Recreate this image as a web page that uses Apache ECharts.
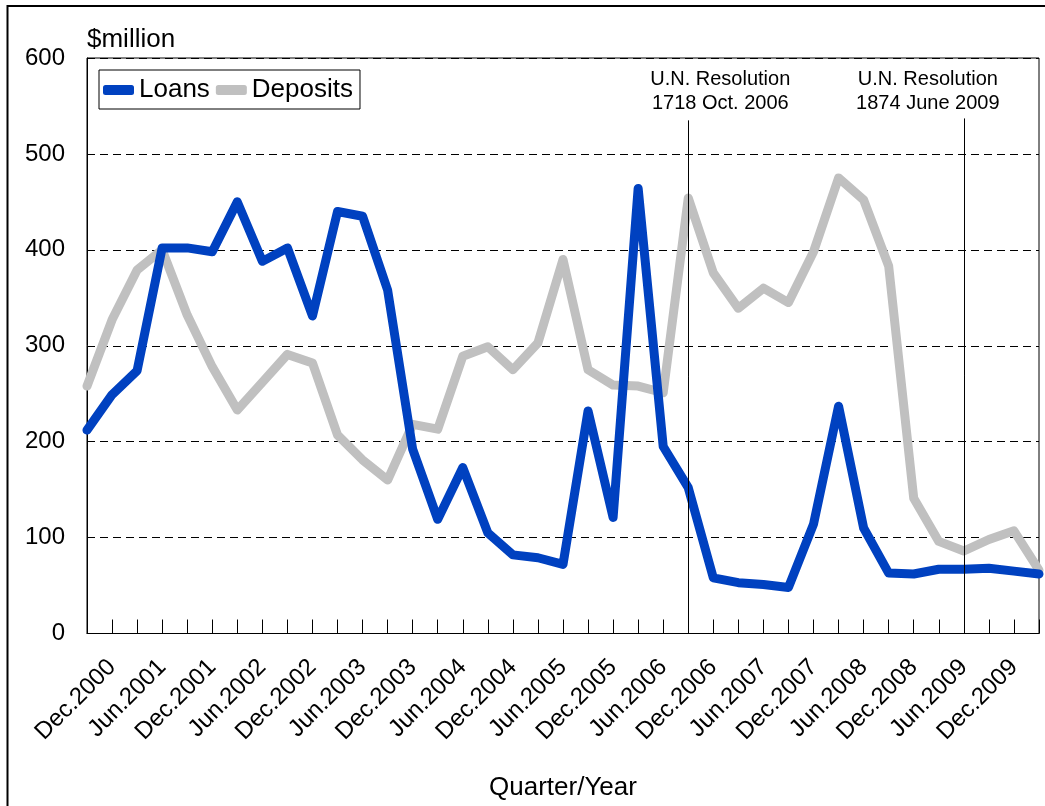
<!DOCTYPE html>
<html>
<head>
<meta charset="utf-8">
<script src="https://cdn.jsdelivr.net/npm/echarts@6/dist/echarts.min.js"></script>
<style>
html,body{margin:0;padding:0;background:#fff;}
#chart{width:1045px;height:806px;}
</style>
</head>
<body>
<div id="chart"></div>
<script>
var categories = ['Sep.2000','Dec.2000','Mar.2001','Jun.2001','Sep.2001','Dec.2001','Mar.2002','Jun.2002','Sep.2002','Dec.2002',
  'Mar.2003','Jun.2003','Sep.2003','Dec.2003','Mar.2004','Jun.2004','Sep.2004','Dec.2004','Mar.2005','Jun.2005',
  'Sep.2005','Dec.2005','Mar.2006','Jun.2006','Sep.2006','Dec.2006','Mar.2007','Jun.2007','Sep.2007','Dec.2007',
  'Mar.2008','Jun.2008','Sep.2008','Dec.2008','Mar.2009','Jun.2009','Sep.2009','Dec.2009','Mar.2010'];
var loans = [212,249,274,402,402,398,450,388,402,331,
  440,435,358,192,119,173,105,82,79,72,
  232,121,464,195,152,58,53,51,48,114,
  237,110,63,62,67,67,68,65,62];
var deposits = [258,327,379,400,332,278,233,262,291,282,
  207,181,160,218,213,289,299,275,303,390,
  275,259,258,251,454,376,339,360,345,398,
  475,452,383,141,96,86,98,107,66];
var yTicks = [0,100,200,300,400,500,600];
var eventCats = ['Sep.2006', 'Jun.2009'];
var eventTops = [535, 537];
var eventTexts = ['U.N. Resolution\n1718 Oct. 2006', 'U.N. Resolution\n1874 June 2009'];

var FONT = "'Liberation Sans', Arial, sans-serif";
var labelDx = [32, -36];   // horizontal offset of annotation text centre from its line (px)
var chart = echarts.init(document.getElementById('chart'));
var option = {
  animation: false,
  backgroundColor: '#fff',
  textStyle: {fontFamily: FONT, color: '#000'},
  grid: {left: 87, right: 6, top: 58, bottom: 172.5, show: true, borderColor: '#000', borderWidth: 1, containLabel: false},
  legend: {
    left: 99, top: 70,
    data: ['Loans', 'Deposits'],
    icon: 'roundRect',
    itemWidth: 31, itemHeight: 10, itemGap: 6,
    padding: [7, 7, 6, 4],
    borderColor: '#000', borderWidth: 1,
    textStyle: {fontFamily: FONT, fontSize: 26, color: '#000'}
  },
  xAxis: {
    type: 'category',
    data: categories,
    boundaryGap: false,
    name: 'Quarter/Year',
    nameLocation: 'middle',
    nameGap: 141,
    nameTextStyle: {fontFamily: FONT, fontSize: 26, color: '#000'},
    axisLine: {lineStyle: {color: '#000', width: 1}},
    axisTick: {show: true, inside: true, length: 14, interval: 0, lineStyle: {color: '#000'}},
    axisLabel: {
      rotate: 45, margin: 30, fontFamily: FONT, fontSize: 24, color: '#000',
      interval: function (i) { return i % 2 === 1; }
    },
    splitLine: {show: false}
  },
  yAxis: {
    type: 'value',
    min: yTicks[0], max: yTicks[yTicks.length - 1], interval: 100,
    name: '$million',
    nameLocation: 'end',
    nameGap: 5,
    nameTextStyle: {fontFamily: FONT, fontSize: 26, color: '#000', align: 'left', verticalAlign: 'bottom'},
    axisLine: {show: true, lineStyle: {color: '#000', width: 1}},
    axisTick: {show: false},
    axisLabel: {margin: 22, fontFamily: FONT, fontSize: 24, color: '#000'},
    splitLine: {show: true, lineStyle: {color: '#000', width: 1, type: [8, 5]}}
  },
  series: [
    {
      name: 'Loans', type: 'line', data: loans, z: 3,
      showSymbol: false, symbol: 'none',
      itemStyle: {color: '#0041C0'},
      lineStyle: {color: '#0041C0', width: 9, cap: 'round', join: 'round'},
      markLine: {
        silent: true, symbol: ['none', 'none'], z: 5,
        label: {show: false},
        lineStyle: {color: '#000', width: 1, type: 'solid'},
        data: eventCats.map(function (c, i) { return [{coord: [c, eventTops[i]]}, {coord: [c, 0]}]; })
      }
    },
    {
      name: 'Deposits', type: 'line', data: deposits, z: 2,
      showSymbol: false, symbol: 'none',
      itemStyle: {color: '#C0C0C0'},
      lineStyle: {color: '#C0C0C0', width: 9, cap: 'round', join: 'round'}
    }
  ],
  graphic: [
    {type: 'rect', shape: {x: 7.5, y: 6, width: 1100, height: 900}, style: {fill: 'none', stroke: '#000', lineWidth: 2}, silent: true, z: 10}
  ]
};
chart.setOption(option);

var g = option.graphic.slice();
eventCats.forEach(function (c, i) {
  var px = chart.convertToPixel({gridIndex: 0}, [c, eventTops[i]]);
  g.push({
    type: 'text', x: px[0] + labelDx[i], y: 91,
    style: {text: eventTexts[i], font: '20px ' + FONT, fill: '#000', align: 'center', verticalAlign: 'middle', lineHeight: 24},
    silent: true, z: 10
  });
});
chart.setOption({graphic: g});
</script>
</body>
</html>
